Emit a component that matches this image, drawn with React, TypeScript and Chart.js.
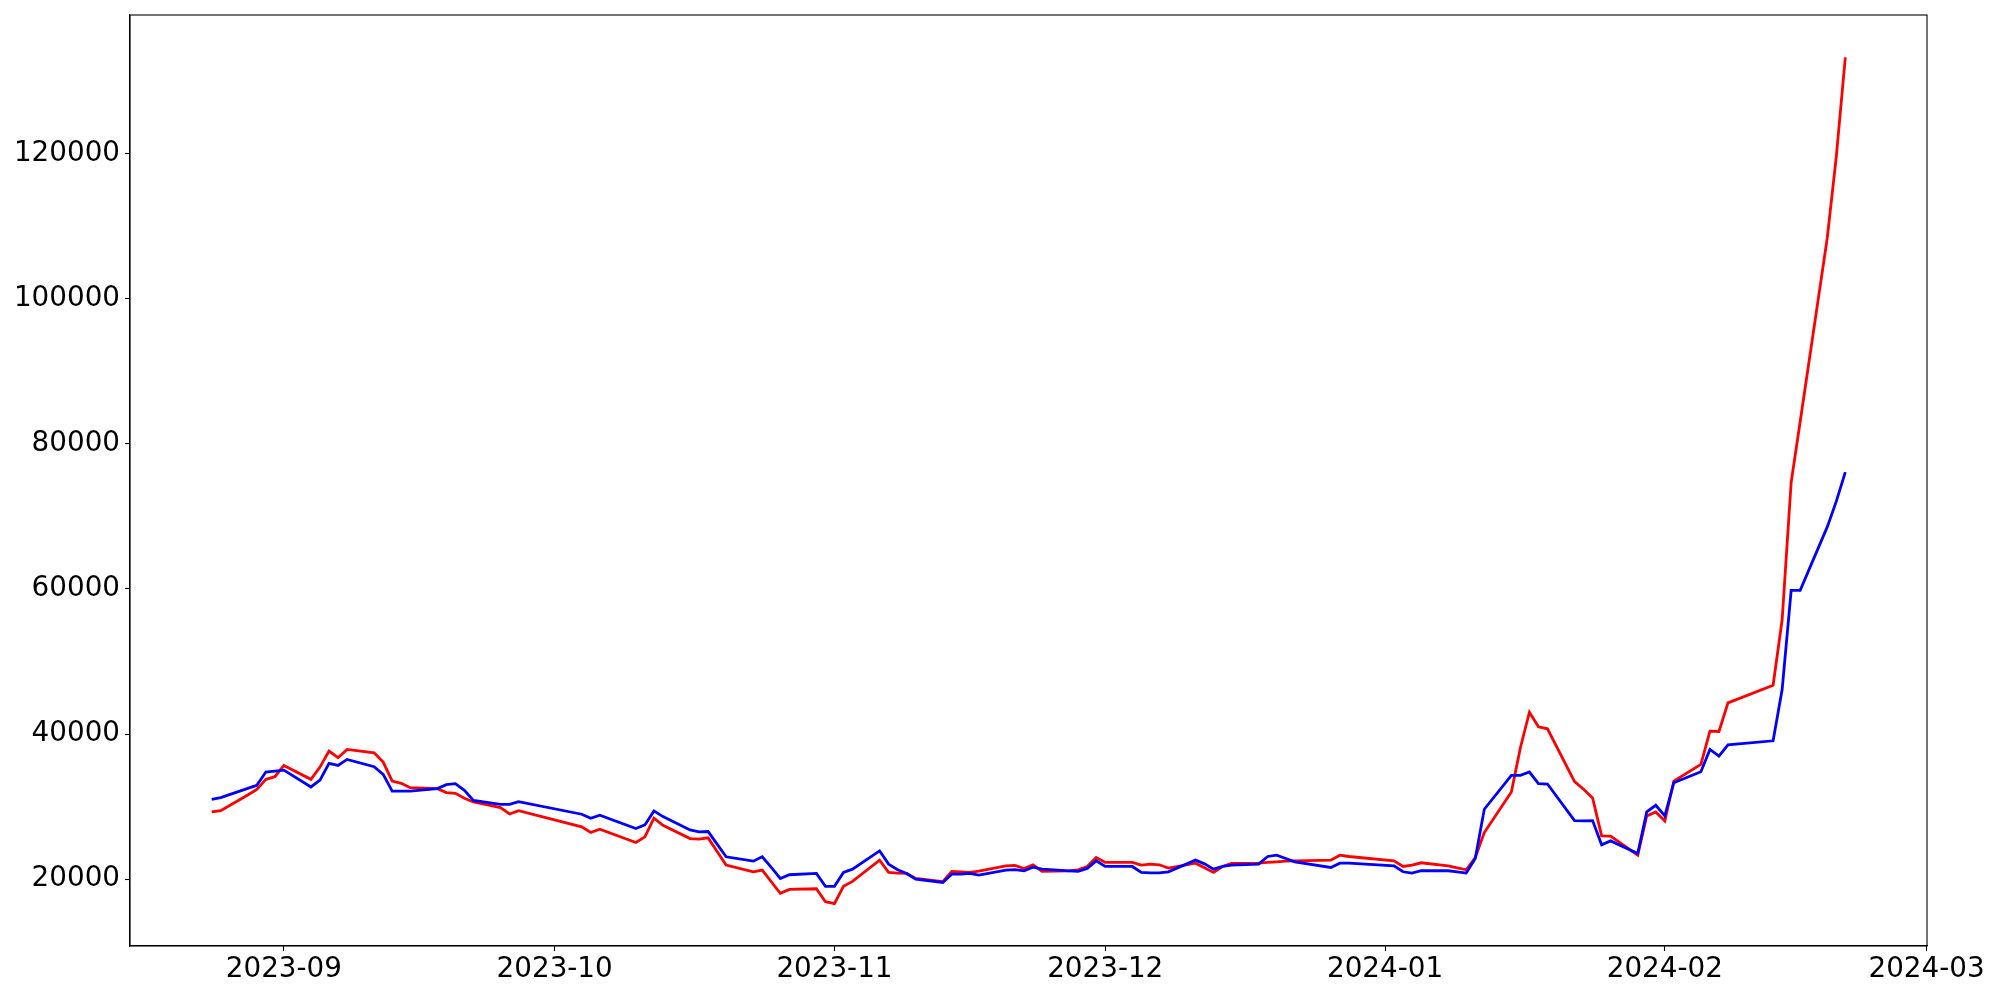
import React, { useEffect, useRef } from 'react';
import { Chart, registerables } from 'chart.js';

Chart.register(...registerables);

const dates: string[] = [
  '2023-08-24', '2023-08-25', '2023-08-28', '2023-08-29', '2023-08-30', '2023-08-31',
  '2023-09-01', '2023-09-04', '2023-09-05', '2023-09-06', '2023-09-07', '2023-09-08',
  '2023-09-11', '2023-09-12', '2023-09-13', '2023-09-14', '2023-09-15',
  '2023-09-18', '2023-09-19', '2023-09-20', '2023-09-21', '2023-09-22',
  '2023-09-25', '2023-09-26', '2023-09-27',
  '2023-10-04', '2023-10-05', '2023-10-06',
  '2023-10-10', '2023-10-11', '2023-10-12', '2023-10-13',
  '2023-10-16', '2023-10-17', '2023-10-18', '2023-10-19', '2023-10-20',
  '2023-10-23', '2023-10-24', '2023-10-25', '2023-10-26', '2023-10-27',
  '2023-10-30', '2023-10-31', '2023-11-01', '2023-11-02', '2023-11-03',
  '2023-11-06', '2023-11-07', '2023-11-08', '2023-11-09', '2023-11-10',
  '2023-11-13', '2023-11-14', '2023-11-15', '2023-11-16', '2023-11-17',
  '2023-11-20', '2023-11-21', '2023-11-22', '2023-11-23', '2023-11-24',
  '2023-11-27', '2023-11-28', '2023-11-29', '2023-11-30', '2023-12-01',
  '2023-12-04', '2023-12-05', '2023-12-06', '2023-12-07', '2023-12-08',
  '2023-12-11', '2023-12-12', '2023-12-13', '2023-12-14', '2023-12-15',
  '2023-12-18', '2023-12-19', '2023-12-20', '2023-12-21', '2023-12-22',
  '2023-12-26', '2023-12-27', '2023-12-28',
  '2024-01-02', '2024-01-03', '2024-01-04', '2024-01-05',
  '2024-01-08', '2024-01-09', '2024-01-10', '2024-01-11', '2024-01-12',
  '2024-01-15', '2024-01-16', '2024-01-17', '2024-01-18', '2024-01-19',
  '2024-01-22', '2024-01-23', '2024-01-24', '2024-01-25', '2024-01-26',
  '2024-01-29', '2024-01-30', '2024-01-31', '2024-02-01', '2024-02-02',
  '2024-02-05', '2024-02-06', '2024-02-07', '2024-02-08',
  '2024-02-13', '2024-02-14', '2024-02-15', '2024-02-16',
  '2024-02-19', '2024-02-20', '2024-02-21',
];

const redValues: number[] = [
  29260, 29440, 31600, 32375, 33750, 34120,
  35675, 33750, 35440, 37640, 36730, 37875,
  37420, 36130, 33520, 33200, 32600,
  32470, 31920, 31825, 31140, 30630,
  29860, 28980, 29440,
  27200, 26420, 26875,
  25040, 25820, 28390, 27425,
  25590, 25500, 25685, 23805, 21925,
  21010, 21240, 19635, 18030, 18580,
  18670, 16885, 16610, 18995, 19680,
  22613, 20917, 20825, 20779, 20092,
  19634, 21055, 21009, 20917, 21100,
  21833, 21900, 21467, 21971, 21055,
  21146, 21284, 21742, 22979, 22292,
  22292, 21925, 22063, 21971, 21513,
  22200, 21550, 20917, 21742, 22154,
  22200, 22292, 22384, 22475, 22521,
  22613, 23300, 23117,
  22521, 21742, 21925, 22250,
  21835, 21560, 21285, 22980, 26420,
  32010, 38105, 43010, 40990, 40720,
  33430, 32380, 31185, 25960, 25915,
  23300, 28710, 29260, 28025, 33520,
  35815, 40400, 40350, 44290,
  46720, 55750, 74710, 83100,
  108400, 119600, 133300,
];

const blueValues: number[] = [
  31000, 31230, 32500, 32925, 34760, 34900,
  35030, 32700, 33650, 35950, 35675, 36500,
  35500, 34440, 32140, 32140, 32140,
  32470, 33020, 33150, 32240, 30860,
  30310, 30310, 30680,
  28940, 28390, 28800,
  26970, 27470, 29400, 28620,
  26785, 26510, 26555, 24815, 23070,
  22475, 23070, 21610, 20090, 20600,
  20780, 18995, 18995, 20920, 21375,
  23896, 22063, 21284, 20779, 20000,
  19542, 20688, 20688, 20779, 20550,
  21238, 21300, 21146, 21650, 21375,
  21146, 21055, 21467, 22521, 21742,
  21742, 20917, 20871, 20871, 21009,
  22613, 22100, 21375, 21742, 21925,
  22063, 23117, 23300, 22842, 22384,
  21604, 22200, 22200,
  21833, 21009, 20825, 21150,
  21150, 21010, 20828, 22843, 29630,
  34300, 34300, 34760, 33155, 33110,
  28070, 28025, 28070, 24720, 25270,
  23530, 29260, 30180, 28710, 33290,
  34805, 37880, 36960, 38520,
  39070, 46125, 59800, 59800,
  68560, 72070, 76110,
];

const xTickLabels: string[] = ['2023-09', '2023-10', '2023-11', '2023-12', '2024-01', '2024-02', '2024-03'];
const yTickValues: number[] = [20000, 40000, 60000, 80000, 100000, 120000];

const toMs = (s: string): number => {
  const [y, m, d] = s.split('-').map(Number);
  return Date.UTC(y, m - 1, d || 1);
};

const fmtMonth = (ms: number): string => {
  const dt = new Date(ms);
  const m = dt.getUTCMonth() + 1;
  return `${dt.getUTCFullYear()}-${m < 10 ? '0' + m : m}`;
};

const framePlugin = {
  id: 'frame',
  afterDatasetsDraw(chart: any) {
    const { ctx, chartArea } = chart;
    ctx.save();
    ctx.strokeStyle = '#000';
    ctx.lineWidth = 1.1;
    ctx.strokeRect(chartArea.left, chartArea.top, chartArea.right - chartArea.left, chartArea.bottom - chartArea.top);
    ctx.restore();
  },
};

export default function App() {
  const canvasRef = useRef<HTMLCanvasElement | null>(null);

  useEffect(() => {
    const xs = dates.map(toMs);
    const xMinData = Math.min(...xs);
    const xMaxData = Math.max(...xs);
    const xPad = (xMaxData - xMinData) * 0.05;
    const allY = [...redValues, ...blueValues];
    const yMinData = Math.min(...allY);
    const yMaxData = Math.max(...allY);
    const yPad = (yMaxData - yMinData) * 0.05;

    const font = { family: "'DejaVu Sans', sans-serif", size: 27.8 };

    const chart = new Chart(canvasRef.current as HTMLCanvasElement, {
      type: 'line',
      data: {
        datasets: [
          {
            label: 'blue',
            data: xs.map((x, i) => ({ x, y: blueValues[i] })),
            borderColor: '#0000ff',
            borderWidth: 2.8,
            pointRadius: 0,
            tension: 0,
            fill: false,
          },
          {
            label: 'red',
            data: xs.map((x, i) => ({ x, y: redValues[i] })),
            borderColor: '#ff0000',
            borderWidth: 2.8,
            pointRadius: 0,
            tension: 0,
            fill: false,
          },
        ],
      },
      options: {
        responsive: false,
        animation: false,
        devicePixelRatio: 1,
        layout: { padding: { left: 0, top: 15, right: 73, bottom: 0 } },
        plugins: {
          legend: { display: false },
          tooltip: { enabled: false },
          title: { display: false },
        },
        scales: {
          x: {
            type: 'linear',
            min: xMinData - xPad,
            max: xMaxData + xPad,
            afterBuildTicks: (scale: any) => {
              scale.ticks = xTickLabels.map((l) => ({ value: toMs(l + '-01') }));
            },
            afterFit: (scale: any) => {
              scale.height = 54;
              scale.paddingLeft = 0;
              scale.paddingRight = 0;
            },
            ticks: {
              autoSkip: false,
              maxRotation: 0,
              minRotation: 0,
              padding: 2,
              color: '#000',
              font,
              callback: (v: any) => fmtMonth(Number(v)),
            },
            grid: {
              display: true,
              drawOnChartArea: false,
              drawTicks: true,
              tickLength: 5,
              tickColor: '#000',
              tickWidth: 1.1,
            },
            border: { display: true, color: '#000', width: 1.1 },
          },
          y: {
            type: 'linear',
            min: yMinData - yPad,
            max: yMaxData + yPad,
            afterBuildTicks: (scale: any) => {
              scale.ticks = yTickValues.map((v) => ({ value: v }));
            },
            afterFit: (scale: any) => {
              scale.width = 130;
              scale.paddingTop = 0;
              scale.paddingBottom = 0;
            },
            ticks: {
              autoSkip: false,
              padding: 5,
              color: '#000',
              font,
              callback: (v: any) => String(v),
            },
            grid: {
              display: true,
              drawOnChartArea: false,
              drawTicks: true,
              tickLength: 5,
              tickColor: '#000',
              tickWidth: 1.1,
            },
            border: { display: true, color: '#000', width: 1.1 },
          },
        },
      },
      plugins: [framePlugin],
    } as any);

    return () => {
      chart.destroy();
    };
  }, []);

  return (
    <div style={{ position: 'fixed', left: 0, top: 0, width: 2000, height: 1000, background: '#fff' }}>
      <canvas ref={canvasRef} width={2000} height={1000} style={{ width: 2000, height: 1000, display: 'block' }} />
    </div>
  );
}
